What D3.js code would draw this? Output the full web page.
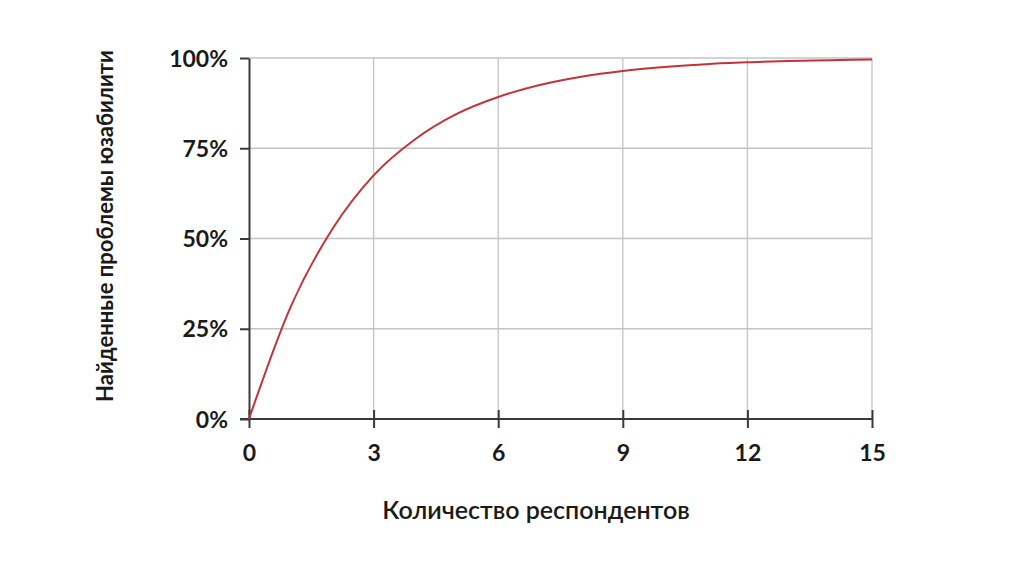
<!DOCTYPE html>
<html><head><meta charset="utf-8">
<script src="https://cdn.jsdelivr.net/npm/d3@7"></script>
<style>
html,body{margin:0;padding:0;background:#fff;}
text{font-family:Lato,"Open Sans",sans-serif;fill:#1a1a1a;}
</style></head>
<body>
<svg id="c" width="1024" height="570"></svg>
<script>
const respondents = [0,1,2,3,4,5,6,7,8,9,10,11,12,13,14,15];
const foundPct = [0,31,52.5,67.5,77.5,84.5,89.2,92.5,94.8,96.4,97.5,98.3,98.8,99.2,99.4,99.6];
const xTicks = [0,3,6,9,12,15];
const yTicks = [0,25,50,75,100];
const xTitle = "Количество респондентов";
const yTitle = "Найденные проблемы юзабилити";

const svg = d3.select("#c");
const L = 249, R = 872, T = 58, B = 419;
const x = d3.scaleLinear().domain([0,15]).range([L,R]);
const y = d3.scaleLinear().domain([0,100]).range([B,T]);

// grid
svg.append("g").selectAll("line").data(xTicks.filter(d=>d>0)).join("line")
  .attr("x1",d=>x(d)).attr("x2",d=>x(d)).attr("y1",T).attr("y2",B)
  .attr("stroke","#c4c4c4").attr("stroke-width",1.3);
svg.append("g").selectAll("line").data(yTicks.filter(d=>d>0)).join("line")
  .attr("x1",L).attr("x2",R).attr("y1",d=>y(d)).attr("y2",d=>y(d))
  .attr("stroke","#c4c4c4").attr("stroke-width",1.3);

// axes
const xAxis = svg.append("g").attr("transform",`translate(0,${B})`)
  .call(d3.axisBottom(x).tickValues(xTicks).tickSizeInner(9).tickSizeOuter(0).tickPadding(17).tickFormat(d3.format("d")));
xAxis.select(".domain").attr("d",`M${L-9},0H${R}`);
xAxis.selectAll(".tick line").attr("y1",-9).attr("y2",9);
const yAxis = svg.append("g").attr("transform",`translate(${L},0)`)
  .call(d3.axisLeft(y).tickValues(yTicks).tickSizeInner(9).tickSizeOuter(0).tickPadding(12).tickFormat(d=>d+"%"));
[xAxis,yAxis].forEach(a=>{
  a.selectAll(".domain,.tick line").attr("stroke","#3a3a3a").attr("stroke-width",2);
  a.selectAll(".tick text").attr("font-size",23).attr("font-weight",700).attr("fill","#1a1a1a")
   .attr("font-family","Lato,sans-serif");
});
yAxis.selectAll(".tick text").attr("dy","0.35em");

// curve
const line = d3.line().x((d,i)=>x(respondents[i])).y(d=>y(d)).curve(d3.curveMonotoneX);
svg.append("path").datum(foundPct).attr("d",line)
  .attr("fill","none").attr("stroke","#c0343a").attr("stroke-width",2);

// titles
svg.append("text").attr("x",536).attr("y",519).attr("text-anchor","middle")
  .attr("font-size",25).attr("font-weight",600).text(xTitle);
svg.append("text").attr("transform",`translate(113,226) rotate(-90)`)
  .attr("text-anchor","middle").attr("font-size",22).attr("font-weight",700).text(yTitle);
</script>
</body></html>
